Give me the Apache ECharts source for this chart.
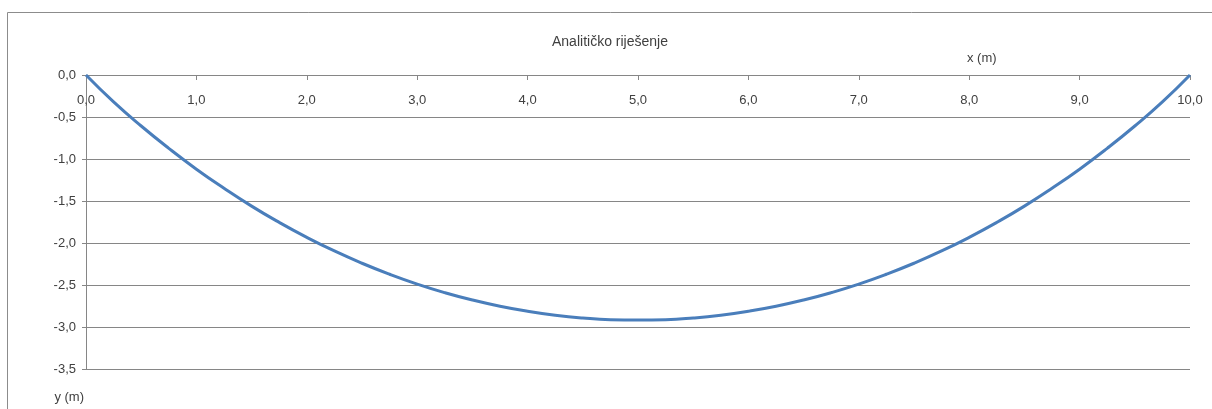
<!DOCTYPE html>
<html>
<head>
<meta charset="utf-8">
<script src="https://cdn.jsdelivr.net/npm/echarts@6/dist/echarts.min.js"></script>
<style>
html,body{margin:0;padding:0;background:#fff;}
#main{width:1212px;height:409px;}
</style>
</head>
<body>
<div id="main"></div>
<script>
const chartTitle = 'Analitičko riješenje';
const xAxisName = 'x (m)';
const yAxisName = 'y (m)';
const xValues = [0, 0.25, 0.5, 0.75, 1, 1.25, 1.5, 1.75, 2, 2.25, 2.5, 2.75, 3, 3.25, 3.5, 3.75, 4, 4.25, 4.5, 4.75, 5,
                 5.25, 5.5, 5.75, 6, 6.25, 6.5, 6.75, 7, 7.25, 7.5, 7.75, 8, 8.25, 8.5, 8.75, 9, 9.25, 9.5, 9.75, 10];
const yValues = [0, -0.320, -0.607, -0.873, -1.121, -1.348, -1.561, -1.755, -1.933, -2.095, -2.241, -2.372, -2.489, -2.591, -2.679, -2.753, -2.813, -2.860, -2.893, -2.913, -2.917,
                 -2.913, -2.893, -2.860, -2.813, -2.753, -2.679, -2.591, -2.489, -2.372, -2.241, -2.095, -1.933, -1.755, -1.561, -1.348, -1.121, -0.873, -0.607, -0.320, 0];

const fmt = v => v.toFixed(1).replace('.', ',');
const font = '"Liberation Sans", sans-serif';

const chart = echarts.init(document.getElementById('main'), null, {renderer: 'canvas'});
chart.setOption({
  animation: false,
  backgroundColor: '#ffffff',
  graphic: [{
    type: 'rect',
    shape: {x: 7.5, y: 12.5, width: 1400, height: 600},
    style: {fill: 'none', stroke: '#8c8c8c', lineWidth: 1},
    silent: true
  }],
  title: [{
    text: chartTitle,
    left: 552, top: 35,
    padding: 0,
    textStyle: {fontFamily: font, fontSize: 14, fontWeight: 'normal', color: '#404040'}
  }, {
    text: xAxisName,
    left: 967, top: 52,
    padding: 0,
    textStyle: {fontFamily: font, fontSize: 13, fontWeight: 'normal', color: '#404040'}
  }],
  grid: {left: 86, right: 22, top: 75, bottom: 40, containLabel: false},
  xAxis: {
    type: 'value',
    position: 'top',
    min: 0, max: 10, interval: 1,
    axisLine: {show: true, onZero: false, lineStyle: {color: '#868686', width: 1}},
    axisTick: {show: true, inside: true, length: 5, lineStyle: {color: '#868686'}},
    axisLabel: {inside: true, margin: 19, formatter: fmt, fontFamily: font, fontSize: 13, color: '#404040'},
    splitLine: {show: false}
  },
  yAxis: {
    type: 'value',
    min: -3.5, max: 0, interval: 0.5,
    name: yAxisName,
    nameLocation: 'start',
    nameGap: 22,
    nameTextStyle: {fontFamily: font, fontSize: 13, color: '#404040', align: 'right', padding: [0, 2, 0, 0]},
    axisLine: {show: true, lineStyle: {color: '#868686', width: 1}},
    axisTick: {show: true, length: 4, lineStyle: {color: '#868686'}},
    axisLabel: {margin: 10, formatter: fmt, fontFamily: font, fontSize: 13, color: '#404040'},
    splitLine: {show: true, lineStyle: {color: '#868686', width: 1}}
  },
  series: [{
    type: 'line',
    data: xValues.map((x, i) => [x, yValues[i]]),
    smooth: true,
    showSymbol: false,
    lineStyle: {color: '#4a7ebb', width: 3},
    itemStyle: {color: '#4a7ebb'}
  }]
});
</script>
</body>
</html>
